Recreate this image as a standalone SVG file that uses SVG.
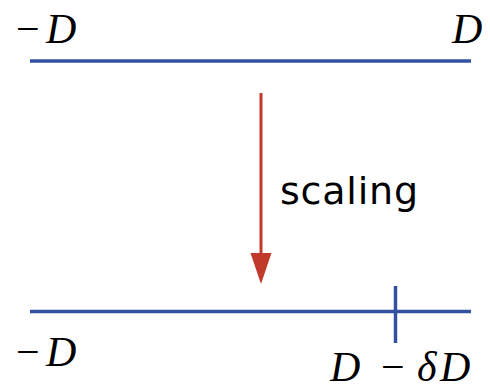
<svg xmlns="http://www.w3.org/2000/svg" width="490" height="386" viewBox="0 0 490 386">
<style>
.ax{stroke:#3450a0;stroke-width:3.5;fill:none}
.m{font-family:"Liberation Serif",serif;font-size:42px;fill:#000}
.i{font-style:italic}
.lbl{font-family:"DejaVu Sans",sans-serif;font-size:38px;fill:#000}
</style>
<rect width="490" height="386" fill="#fff"/>
<g id="top-axis">
<line class="ax" x1="30" y1="61" x2="471" y2="61"/>
<text class="m" y="43"><tspan x="16">−</tspan><tspan class="i" x="46">D</tspan></text>
<text class="m i" x="452" y="43">D</text>
</g>
<g id="bottom-axis">
<line class="ax" x1="30" y1="311.5" x2="471" y2="311.5"/>
<line class="ax" x1="395.5" y1="286" x2="395.5" y2="343"/>
<text class="m" y="366"><tspan x="16">−</tspan><tspan class="i" x="46">D</tspan></text>
<text class="m" y="381"><tspan class="i" x="330">D</tspan><tspan x="381">−</tspan><tspan class="i" x="417">δ</tspan><tspan class="i" x="440">D</tspan></text>
</g>
<g id="connectors">
<line x1="261" y1="93" x2="261" y2="256" stroke="#c0392b" stroke-width="3"/>
<polygon points="250.5,253 271.5,253 261,284" fill="#c0392b"/>
<text class="lbl" x="280" y="204" textLength="138" lengthAdjust="spacing">scaling</text>
</g>
</svg>
